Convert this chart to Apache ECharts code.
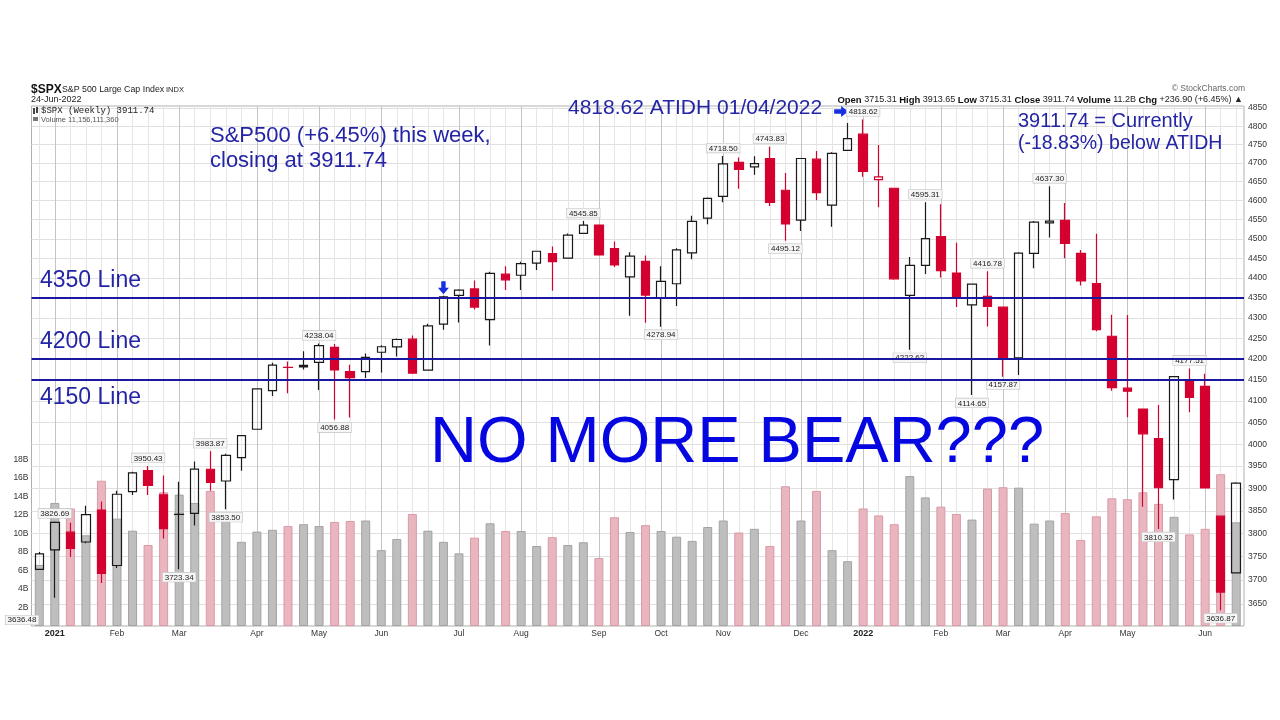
<!DOCTYPE html>
<html><head><meta charset="utf-8">
<script src="https://cdn.jsdelivr.net/npm/echarts@6.0.0/dist/echarts.min.js"></script>
<style>html,body{margin:0;padding:0;background:#fff;}#c{width:1280px;height:720px;}</style>
</head><body><div id="c"></div>
<script>
// ---------- DATA ----------
const weeks = ['2020-12-28','2021-01-04','2021-01-11','2021-01-19','2021-01-25','2021-02-01','2021-02-08','2021-02-16','2021-02-22','2021-03-01','2021-03-08','2021-03-15','2021-03-22','2021-03-29','2021-04-05','2021-04-12','2021-04-19','2021-04-26','2021-05-03','2021-05-10','2021-05-17','2021-05-24','2021-06-01','2021-06-07','2021-06-14','2021-06-21','2021-06-28','2021-07-06','2021-07-12','2021-07-19','2021-07-26','2021-08-02','2021-08-09','2021-08-16','2021-08-23','2021-08-30','2021-09-07','2021-09-13','2021-09-20','2021-09-27','2021-10-04','2021-10-11','2021-10-18','2021-10-25','2021-11-01','2021-11-08','2021-11-15','2021-11-22','2021-11-29','2021-12-06','2021-12-13','2021-12-20','2021-12-27','2022-01-03','2022-01-10','2022-01-18','2022-01-24','2022-01-31','2022-02-07','2022-02-14','2022-02-22','2022-02-28','2022-03-07','2022-03-14','2022-03-21','2022-03-28','2022-04-04','2022-04-11','2022-04-18','2022-04-25','2022-05-02','2022-05-09','2022-05-16','2022-05-23','2022-05-31','2022-06-06','2022-06-13','2022-06-21'];
const opens = [3723.03,3764.61,3803.14,3781.88,3851.68,3731.17,3892.59,3939.61,3885.55,3842.51,3844.39,3942.96,3916.48,3969.31,4034.44,4124.71,4179.80,4185.14,4191.98,4228.29,4169.92,4170.16,4216.52,4229.34,4248.31,4173.40,4284.90,4356.46,4372.41,4296.40,4409.58,4406.86,4437.77,4461.65,4450.29,4513.76,4535.38,4474.81,4402.95,4442.12,4348.84,4385.44,4463.72,4553.69,4610.62,4701.48,4689.30,4712.00,4627.00,4548.37,4710.30,4587.90,4733.99,4778.14,4655.34,4632.24,4356.32,4431.79,4505.75,4412.61,4332.74,4354.17,4327.01,4202.75,4462.40,4541.09,4547.97,4462.64,4385.63,4255.34,4130.61,4081.27,4013.02,3919.42,4151.09,4134.72,3838.15,3715.31];
const highs = [3760.20,3826.69,3823.60,3861.45,3870.90,3894.56,3937.07,3950.43,3928.65,3914.50,3960.27,3983.87,3978.19,4020.63,4129.48,4191.31,4194.17,4218.78,4238.04,4236.39,4186.72,4213.42,4233.45,4249.74,4257.16,4286.12,4355.43,4371.60,4393.68,4415.49,4429.97,4440.82,4468.73,4480.26,4513.33,4545.85,4535.38,4492.99,4465.40,4457.30,4429.97,4475.82,4559.67,4608.08,4718.50,4714.92,4717.75,4743.83,4672.95,4713.57,4731.99,4729.00,4808.93,4818.62,4748.83,4632.24,4453.23,4595.31,4590.03,4489.55,4385.34,4416.78,4327.01,4465.40,4546.03,4637.30,4593.45,4471.00,4512.94,4308.45,4307.66,4081.27,4090.72,4158.49,4177.51,4164.86,3838.15,3913.65];
const lows = [3723.03,3662.71,3749.62,3779.00,3694.12,3725.62,3885.00,3884.94,3789.54,3723.34,3818.00,3894.50,3853.50,3939.50,4034.44,4112.00,4118.38,4174.85,4126.00,4056.88,4061.41,4155.00,4167.59,4206.00,4164.40,4173.40,4271.00,4289.37,4321.00,4233.13,4370.00,4370.00,4420.00,4367.73,4450.29,4513.33,4457.66,4427.76,4305.91,4288.52,4278.94,4329.92,4447.47,4537.36,4595.06,4630.86,4668.00,4585.43,4495.12,4520.00,4600.22,4531.10,4733.99,4662.74,4582.24,4395.34,4222.62,4410.00,4401.41,4327.22,4114.65,4279.54,4157.87,4161.72,4424.30,4503.00,4450.04,4381.34,4267.62,4124.28,4062.51,3858.87,3810.32,3875.13,4073.85,3900.16,3636.87,3715.31];
const closes = [3756.07,3824.68,3768.25,3841.47,3714.24,3886.83,3934.83,3906.71,3811.15,3841.94,3943.34,3913.10,3974.54,4019.87,4128.80,4185.47,4180.17,4181.17,4232.60,4173.85,4155.86,4204.11,4229.89,4247.44,4166.45,4280.70,4352.34,4369.55,4327.16,4411.79,4395.26,4436.52,4468.00,4441.67,4509.37,4535.43,4458.58,4432.99,4455.48,4357.04,4391.34,4471.37,4544.90,4605.38,4697.53,4682.85,4697.96,4594.62,4538.43,4712.02,4620.64,4725.79,4766.18,4677.03,4662.85,4397.94,4431.85,4500.53,4418.64,4348.87,4384.65,4328.87,4204.31,4463.12,4543.06,4545.86,4488.28,4392.59,4271.78,4131.93,4123.34,4023.89,3901.36,4158.24,4108.54,3900.86,3674.84,3911.74];
const prevClose = 3703.06;
// weekly volume, billions of shares
const volumes = [6.6,13.3,12.7,9.8,15.7,11.6,10.3,8.75,14.45,14.2,13.3,14.6,11.7,9.1,10.2,10.4,10.8,11.0,10.8,11.25,11.35,11.4,8.2,9.4,12.1,10.3,9.1,7.85,9.55,11.1,10.27,10.27,8.65,9.6,8.75,9.05,7.35,11.75,10.16,10.9,10.27,9.65,9.2,10.7,11.4,10.1,10.5,8.65,15.1,11.4,14.6,8.2,7.0,12.7,11.95,11.0,16.2,13.9,12.9,12.1,11.5,14.85,15.0,14.95,11.06,11.4,12.2,9.3,11.85,13.8,13.7,14.45,13.2,11.8,9.9,10.5,16.4,11.2];
const lastVolumeExact = '11,156,111,360';
const priceTicks = [3650,3700,3750,3800,3850,3900,3950,4000,4050,4100,4150,4200,4250,4300,4350,4400,4450,4500,4550,4600,4650,4700,4750,4800,4850];
const volTicks = [2,4,6,8,10,12,14,16,18];
const levelLines = [4350,4200,4150];
// [week index, 'h' = high label / 'l' = low label]
const hiLoNotes = [[1,'h'],[7,'h'],[9,'l'],[11,'h'],[12,'l'],[18,'h'],[19,'l'],[35,'h'],[40,'l'],[44,'h'],[47,'h'],[48,'l'],[53,'h'],[56,'l'],[57,'h'],[60,'l'],[61,'h'],[62,'l'],[65,'h'],[72,'l'],[74,'h'],[76,'l']];
const offChartLow = 3636.48;
const months = ['Jan','Feb','Mar','Apr','May','Jun','Jul','Aug','Sep','Oct','Nov','Dec'];

// ---------- STYLE ----------
const RED = '#D4002F', BLACK = '#1a1a1a';
const PINK = '#E9B6C0', PINKB = '#D99AA6', GRAY = '#BEBEBE', GRAYB = '#A3A3A3';
const FONT = 'Liberation Sans, Arial, sans-serif';
const ANN = '#2424A6';

const logv = v => Math.log10(v);
const monthStart = weeks.map((w, i) => i > 0 && w.slice(5, 7) !== weeks[i - 1].slice(5, 7));

const candleData = weeks.map((w, i) => {
  const o = opens[i], c = closes[i];
  const prev = i === 0 ? prevClose : closes[i - 1];
  const col = c < prev ? RED : BLACK;
  const fill = c >= o ? 'rgba(255,255,255,0)' : col;
  return { value: [logv(o), logv(c), logv(lows[i]), logv(highs[i])],
    itemStyle: { color: fill, color0: fill, borderColor: col, borderColor0: col } };
});
const volData = volumes.map((v, i) => {
  const prev = i === 0 ? prevClose : closes[i - 1];
  const down = closes[i] < prev;
  return { value: v, itemStyle: { color: down ? PINK : GRAY, borderColor: down ? PINKB : GRAYB, borderWidth: 1 } };
});

const noteMarks = hiLoNotes.map(([i, k]) => {
  const v = k === 'h' ? highs[i] : lows[i];
  return { coord: [i, logv(v)], value: v, label: { position: k === 'h' ? 'top' : 'bottom' } };
});
const arrowDown = 'path://M3,0 L7,0 L7,6 L10,6 L5,12 L0,6 L3,6 Z';
const arrowRight = 'path://M0,3 L6,3 L6,0 L12,5 L6,10 L6,7 L0,7 Z';
noteMarks.push({ coord: [26, logv(highs[26])], value: highs[26], symbol: arrowDown, symbolSize: [11, 13],
  symbolOffset: [0, -8], itemStyle: { color: '#1530E0' }, label: { show: false } });
noteMarks.push({ coord: [53, logv(highs[53])], value: highs[53], symbol: arrowRight, symbolSize: [14, 11],
  symbolOffset: [-22, -8], itemStyle: { color: '#1530E0' }, label: { show: false } });

const last = closes.length - 1;
const chg = closes[last] - closes[last - 1];
const pct = chg / closes[last - 1] * 100;
const headerText = `{b|Open} ${opens[last].toFixed(2)} {b|High} ${highs[last].toFixed(2)} {b|Low} ${lows[last].toFixed(2)} {b|Close} ${closes[last].toFixed(2)} {b|Volume} ${volumes[last].toFixed(1)}B {b|Chg} +${chg.toFixed(2)} (+${pct.toFixed(2)}%) \u25B2`;

function txt(text, x, y, size, color, extra) {
  return { type: 'text', z: 100, style: Object.assign({ text, x, y, fill: color,
    font: `${size}px ${FONT}`, align: 'left', verticalAlign: 'middle' }, extra || {}) };
}

const chart = echarts.init(document.getElementById('c'));
chart.setOption({
  animation: false,
  backgroundColor: '#fff',
  grid: { left: 31.5, right: 36, top: 106, bottom: 94, show: true, borderColor: '#b0b0b0', borderWidth: 1, backgroundColor: '#fff' },
  xAxis: {
    type: 'category', data: weeks, boundaryGap: true,
    axisLine: { show: false }, axisTick: { show: false }, splitLine: { show: false },
    axisLabel: {
      interval: (i) => monthStart[i],
      margin: 3, fontSize: 8.5, color: '#333', fontFamily: FONT,
      formatter: (v) => { const m = +v.slice(5, 7); return m === 1 ? '{y|' + v.slice(0, 4) + '}' : months[m - 1]; },
      rich: { y: { fontWeight: 'bold', fontSize: 9, color: '#222', fontFamily: FONT } }
    }
  },
  yAxis: [
    { type: 'value', position: 'right', min: logv(3604), max: logv(4856),
      axisLine: { show: false },
      axisTick: { show: false, customValues: priceTicks.map(logv) },
      splitLine: { show: true, lineStyle: { color: '#e0e0e0', width: 1 } },
      axisLabel: { customValues: priceTicks.map(logv), formatter: v => String(Math.round(Math.pow(10, v))),
        fontSize: 8.5, color: '#333', margin: 4, fontFamily: FONT } },
    { type: 'value', position: 'left', min: 0, max: 56.2,
      axisLine: { show: false }, axisTick: { show: false, customValues: volTicks }, splitLine: { show: false },
      axisLabel: { customValues: volTicks, formatter: v => v + 'B', fontSize: 8.5, color: '#333', margin: 3, fontFamily: FONT } }
  ],
  series: [
    { type: 'line', yAxisIndex: 0, data: weeks.map(() => null), silent: true, z: 1,
      markLine: { silent: true, z: 1, symbol: ['none', 'none'], label: { show: false },
        data: weeks.map((w, i) => ({ xAxis: i, lineStyle: { type: 'solid', width: 1, color: monthStart[i] ? '#c4c4c4' : '#e6e6e6' } })) } },
    { type: 'bar', yAxisIndex: 1, data: volData, barWidth: 9, z: 2, silent: true },
    { type: 'candlestick', yAxisIndex: 0, data: candleData, barWidth: 9, z: 3, silent: true,
      itemStyle: { borderWidth: 1.2 },
      markPoint: { silent: true, symbol: 'rect', symbolSize: [1, 1], itemStyle: { color: 'rgba(0,0,0,0)' },
        label: { show: true, formatter: p => p.value.toFixed(2), fontSize: 8, color: '#222', fontFamily: FONT,
          backgroundColor: '#f6f6f6', borderColor: '#c2c2c2', borderWidth: 0.6, padding: [1, 2, 0, 2], distance: 3 },
        data: noteMarks } },
    { type: 'line', yAxisIndex: 0, data: weeks.map(() => null), silent: true, z: 6,
      markLine: { silent: true, z: 6, precision: 10, symbol: ['none', 'none'], label: { show: false },
        lineStyle: { type: 'solid', color: '#1818A0', width: 2 },
        data: levelLines.map(v => ({ yAxis: logv(v) })) } }
  ],
  graphic: [
    txt('$SPX', 31, 90, 12, '#111', { font: `bold 12px ${FONT}` }),
    txt('S&P 500 Large Cap Index', 62, 90, 8.8, '#222'),
    txt('INDX', 166, 90, 7.5, '#222'),
    txt('24-Jun-2022', 31, 100, 9, '#222'),
    txt('\u00A9 StockCharts.com', 1245, 89, 8.5, '#666', { align: 'right' }),
    { type: 'text', z: 100, style: { text: headerText, x: 1243, y: 100, fill: '#222', align: 'right', verticalAlign: 'middle',
      font: `9px ${FONT}`, rich: { b: { fontWeight: 'bold', fill: '#111', fontSize: 9.5, fontFamily: FONT } } } },
    { type: 'rect', z: 100, shape: { x: 33, y: 108, width: 2, height: 6 }, style: { fill: '#444' } },
    { type: 'rect', z: 100, shape: { x: 36, y: 107, width: 2, height: 6 }, style: { fill: '#444' } },
    { type: 'rect', z: 100, shape: { x: 33, y: 117, width: 5, height: 4 }, style: { fill: '#777' } },
    txt('$SPX (Weekly) ' + closes[last].toFixed(2), 41, 111, 9, '#222', { font: `9px Liberation Mono, monospace` }),
    txt('Volume ' + lastVolumeExact, 41, 119.5, 7.5, '#555'),
    txt('S&P500 (+6.45%) this week,', 210, 136, 22, ANN),
    txt('closing at 3911.74', 210, 161, 22, ANN),
    txt('4818.62 ATIDH 01/04/2022', 568, 108, 21, ANN),
    txt('3911.74 = Currently', 1018, 121, 20, ANN),
    txt('(-18.83%) below ATIDH', 1018, 144, 19.5, ANN),
    txt('4350 Line', 40, 281, 23, ANN),
    txt('4200 Line', 40, 342, 23, ANN),
    txt('4150 Line', 40, 398, 23, ANN),
    txt('NO MORE BEAR???', 430, 444, 65, '#0606E0'),
    txt(offChartLow.toFixed(2), 22, 620, 8, '#222', { align: 'center', backgroundColor: '#f6f6f6', borderColor: '#c2c2c2', borderWidth: 0.6, padding: [1, 2, 0, 2] })
  ]
});
</script>
</body></html>
